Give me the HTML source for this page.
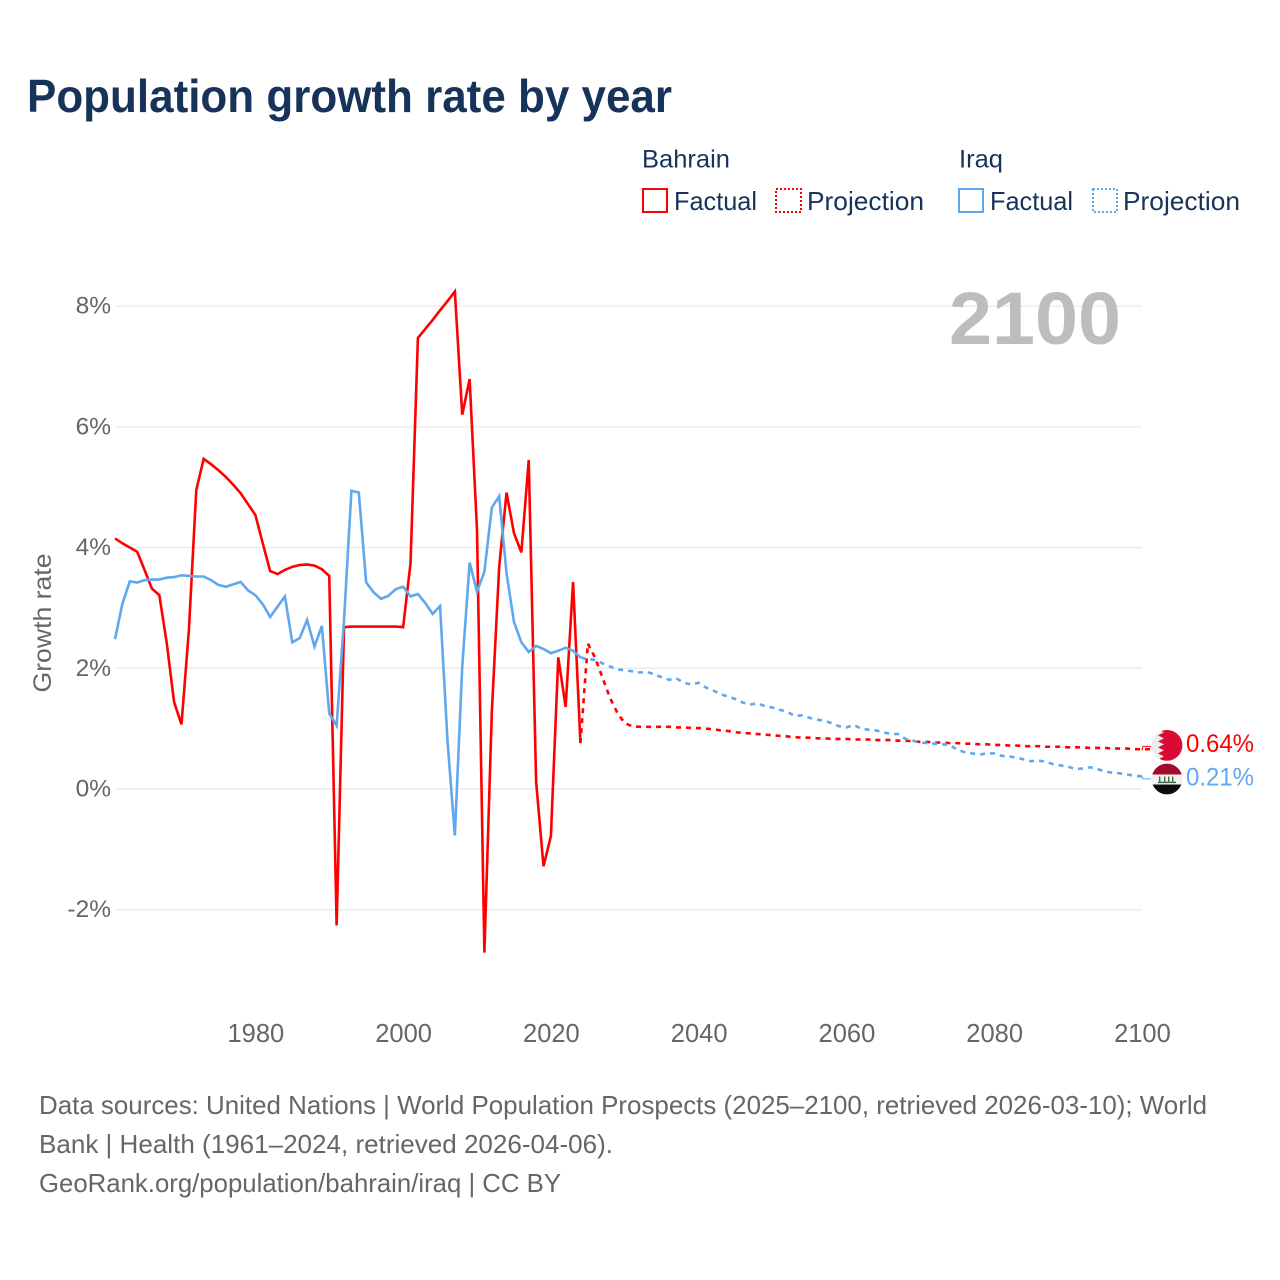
<!DOCTYPE html>
<html lang="en">
<head>
<meta charset="utf-8">
<title>Population growth rate by year</title>
<style>
html,body{margin:0;padding:0;background:#fff;}
svg{display:block;font-family:"Liberation Sans",sans-serif;}
</style>
</head>
<body>
<svg id="chart" xmlns="http://www.w3.org/2000/svg" width="1280" height="1280" viewBox="0 0 1280 1280">
  <rect x="0" y="0" width="1280" height="1280" fill="#ffffff"/>
  <text x="27" y="112" font-size="46" font-weight="700" fill="#17335a" textLength="645" lengthAdjust="spacingAndGlyphs">Population growth rate by year</text>

  <g>
    <text x="642" y="167.5" font-size="25" fill="#17335a" textLength="88" lengthAdjust="spacingAndGlyphs">Bahrain</text>
    <text x="959" y="167.5" font-size="25" fill="#17335a" textLength="44" lengthAdjust="spacingAndGlyphs">Iraq</text>
    <g>
      <rect x="643" y="189" width="24" height="23" fill="none" stroke="#ff0000" stroke-width="2"/>
      <text x="674" y="210" font-size="26" fill="#17335a" textLength="83" lengthAdjust="spacingAndGlyphs">Factual</text>
    </g>
    <g>
      <rect x="776" y="189" width="25" height="23" fill="none" stroke="#ff0000" stroke-width="2" stroke-dasharray="2 2"/>
      <text x="807" y="210" font-size="26" fill="#17335a" textLength="117" lengthAdjust="spacingAndGlyphs">Projection</text>
    </g>
    <g>
      <rect x="959" y="189" width="24" height="23" fill="none" stroke="#5fa8ee" stroke-width="2"/>
      <text x="990" y="210" font-size="26" fill="#17335a" textLength="83" lengthAdjust="spacingAndGlyphs">Factual</text>
    </g>
    <g>
      <rect x="1093" y="189" width="24" height="23" fill="none" stroke="#5fa8ee" stroke-width="2" stroke-dasharray="2 2"/>
      <text x="1123" y="210" font-size="26" fill="#17335a" textLength="117" lengthAdjust="spacingAndGlyphs">Projection</text>
    </g>
  </g>

  <g id="grid"></g>
  <g id="yticks"></g>
  <g id="xticks"></g>
  <text transform="translate(51,623) rotate(-90)" text-anchor="middle" font-size="25" fill="#666666" textLength="139" lengthAdjust="spacingAndGlyphs">Growth rate</text>
  <text x="949" y="344" font-size="74" font-weight="700" fill="#bdbdbd" textLength="172" lengthAdjust="spacingAndGlyphs">2100</text>

  <g id="series"></g>
  <g id="ends"></g>

  <g fill="#666666" font-size="26">
    <text x="39" y="1114" textLength="1168" lengthAdjust="spacingAndGlyphs">Data sources: United Nations | World Population Prospects (2025–2100, retrieved 2026-03-10); World</text>
    <text x="39" y="1153" textLength="574" lengthAdjust="spacingAndGlyphs">Bank | Health (1961–2024, retrieved 2026-04-06).</text>
    <text x="39" y="1192" textLength="522" lengthAdjust="spacingAndGlyphs">GeoRank.org/population/bahrain/iraq | CC BY</text>
  </g>
</svg>

<script>
// ---- Data (percent growth per year) ----
const firstFactualYear = 1961;
const firstProjectionYear = 2024;
const yTickValues = [8, 6, 4, 2, 0, -2];
const xTickYears = [1980, 2000, 2020, 2040, 2060, 2080, 2100];

const bahrainFactual = [
  4.15, 4.07, 4.00, 3.93, 3.63, 3.32, 3.21, 2.42, 1.44, 1.07,
  2.63, 4.95, 5.47, 5.38, 5.28, 5.17, 5.04, 4.90, 4.72, 4.54,
  4.07, 3.61, 3.56, 3.63, 3.68, 3.71, 3.72, 3.70, 3.64, 3.53,
  -2.26, 2.68, 2.69, 2.69, 2.69, 2.69, 2.69, 2.69, 2.69, 2.68,
  3.74, 7.47, 7.62, 7.77, 7.93, 8.08, 8.24, 6.20, 6.79, 4.29,
  -2.71, 1.26, 3.68, 4.91, 4.24, 3.92, 5.45, 0.12, -1.28, -0.78,
  2.18, 1.36, 3.43, 0.76
];
const bahrainProjection = [
  0.76, 2.41, 2.17, 1.84, 1.51, 1.26, 1.09, 1.04, 1.03, 1.03,
  1.03, 1.03, 1.03, 1.02, 1.02, 1.01, 1.01, 1.00, 0.99, 0.97,
  0.96, 0.94, 0.93, 0.92, 0.91, 0.90, 0.89, 0.88, 0.87, 0.86,
  0.85, 0.85, 0.84, 0.84, 0.83, 0.83, 0.83, 0.82, 0.82, 0.82,
  0.81, 0.81, 0.81, 0.80, 0.80, 0.79, 0.78, 0.78, 0.77, 0.77,
  0.76, 0.76, 0.75, 0.75, 0.74, 0.74, 0.73, 0.73, 0.72, 0.72,
  0.71, 0.71, 0.71, 0.70, 0.70, 0.70, 0.69, 0.69, 0.69, 0.68,
  0.68, 0.68, 0.67, 0.67, 0.67, 0.66, 0.66, 0.66, 0.65, 0.64
];
const iraqFactual = [
  2.48, 3.07, 3.44, 3.42, 3.46, 3.47, 3.47, 3.50, 3.51, 3.54,
  3.53, 3.52, 3.52, 3.46, 3.38, 3.35, 3.39, 3.43, 3.29, 3.21,
  3.06, 2.85, 3.02, 3.19, 2.43, 2.50, 2.80, 2.36, 2.70, 1.25,
  1.05, 2.80, 4.94, 4.91, 3.42, 3.26, 3.15, 3.20, 3.31, 3.35,
  3.19, 3.23, 3.08, 2.90, 3.03, 0.81, -0.77, 2.03, 3.75, 3.27,
  3.60, 4.66, 4.85, 3.57, 2.77, 2.43, 2.27, 2.37, 2.32, 2.25,
  2.29, 2.34, 2.29, 2.18
];
const iraqProjection = [
  2.18, 2.15, 2.14, 2.08, 2.03, 1.98, 1.97, 1.95, 1.93, 1.94,
  1.90, 1.85, 1.81, 1.83, 1.76, 1.73, 1.76, 1.68, 1.63, 1.57,
  1.53, 1.49, 1.43, 1.40, 1.42, 1.37, 1.35, 1.31, 1.28, 1.21,
  1.22, 1.18, 1.15, 1.13, 1.09, 1.04, 1.02, 1.06, 1.00, 0.98,
  0.97, 0.94, 0.91, 0.91, 0.83, 0.80, 0.77, 0.76, 0.75, 0.74,
  0.73, 0.65, 0.61, 0.59, 0.57, 0.59, 0.59, 0.55, 0.54, 0.52,
  0.49, 0.46, 0.47, 0.45, 0.41, 0.39, 0.37, 0.33, 0.34, 0.36,
  0.33, 0.29, 0.27, 0.26, 0.24, 0.22, 0.21
];

// ---- Axis functions ----
const NS = 'http://www.w3.org/2000/svg';
function x(year) { return 115 + (year - 1961) * 7.388; }
function y(value) { return 789 - value * 60.37; }

function make(tag, parent) {
  const el = document.createElementNS(NS, tag);
  parent.appendChild(el);
  return el;
}
function pointsFrom(values, startYear) {
  return values.map(function (v, i) {
    return x(startYear + i).toFixed(2) + ',' + y(v).toFixed(2);
  }).join(' ');
}

// ---- Gridlines and y ticks ----
const gridGroup = document.getElementById('grid');
const yTickGroup = document.getElementById('yticks');
yTickValues.forEach(function (v) {
  const line = make('line', gridGroup);
  
  
  line.setAttribute('x1', 115);
  line.setAttribute('x2', 1142);
  line.setAttribute('y1', y(v));
  line.setAttribute('y2', y(v));
  line.setAttribute('stroke', '#ebebeb');
  line.setAttribute('stroke-width', 1.4);

  const label = make('text', yTickGroup);
  
  
  label.setAttribute('x', 111);
  label.setAttribute('y', y(v) + 7.5);
  label.setAttribute('text-anchor', 'end');
  label.setAttribute('font-size', 24.5);
  label.setAttribute('fill', '#666666');
  label.textContent = v + '%';
});

// ---- X ticks ----
const xTickGroup = document.getElementById('xticks');
xTickYears.forEach(function (yr) {
  const label = make('text', xTickGroup);
  
  
  label.setAttribute('x', x(yr) + 0.5);
  label.setAttribute('y', 1042);
  label.setAttribute('text-anchor', 'middle');
  label.setAttribute('font-size', 25.5);
  label.setAttribute('fill', '#666666');
  label.textContent = yr;
});

// ---- Series ----
const seriesGroup = document.getElementById('series');
const RED = '#ff0000';
const BLUE = '#5fa8ee';

function drawLine(name, values, startYear, color, dashed) {
  const line = make('polyline', seriesGroup);
  
  
  line.setAttribute('points', pointsFrom(values, startYear));
  line.setAttribute('fill', 'none');
  line.setAttribute('stroke', color);
  line.setAttribute('stroke-width', 2.6);
  line.setAttribute('stroke-linejoin', 'miter');
  if (dashed) {
    line.setAttribute('stroke-dasharray', '5 5');
  }
}
drawLine('bahrain-factual-line', bahrainFactual, firstFactualYear, RED, false);
drawLine('bahrain-projection-line', bahrainProjection, firstProjectionYear, RED, true);
drawLine('iraq-factual-line', iraqFactual, firstFactualYear, BLUE, false);
drawLine('iraq-projection-line', iraqProjection, firstProjectionYear, BLUE, true);

// ---- End markers ----
const endGroup = document.getElementById('ends');
const bahrainLast = bahrainProjection[bahrainProjection.length - 1];
const iraqLast = iraqProjection[iraqProjection.length - 1];

function leader(name, value, offset, color) {
  const ly = y(value);
  const l = make('polyline', endGroup);
  
  
  l.setAttribute('points', x(2100) + ',' + ly + ' ' + (x(2100) + 1) + ',' + (ly + offset) + ' ' + (x(2100) + 9) + ',' + (ly + offset));
  l.setAttribute('fill', 'none');
  l.setAttribute('stroke', color);
  l.setAttribute('stroke-width', 1);
}
function endLabel(name, value, offset, color) {
  const t = make('text', endGroup);
  
  
  t.setAttribute('x', 1186);
  t.setAttribute('y', y(value) + offset);
  t.setAttribute('font-size', 25);
  t.setAttribute('fill', color);
  t.setAttribute('textLength', 68);
  t.setAttribute('lengthAdjust', 'spacingAndGlyphs');
  t.textContent = value.toFixed(2) + '%';
}

leader('bahrain-end-leader', bahrainLast, -4, RED);
leader('iraq-end-leader', iraqLast, 2.5, BLUE);

// Bahrain flag
const bahrainFlag = make('g', endGroup);


bahrainFlag.setAttribute('transform', 'translate(1167,' + (y(bahrainLast) - 5) + ')');
bahrainFlag.innerHTML =
  '<clipPath id="clip-bh"><circle cx="0" cy="0" r="15.4"/></clipPath>' +
  '<g clip-path="url(#clip-bh)">' +
  '<rect x="-16" y="-16" width="32" height="32" fill="#ececec"/>' +
  '<polygon fill="#da0a32" points="16,-16 -9,-16 -3,-13 -9,-10 -3,-7 -9,-4 -3,-1 -9,2 -3,5 -9,8 -3,11 -9,14 -3,16 16,16"/>' +
  '</g>';

// Iraq flag
const iraqFlag = make('g', endGroup);


iraqFlag.setAttribute('transform', 'translate(1167,' + (y(iraqLast) + 2.7) + ')');
iraqFlag.innerHTML =
  '<clipPath id="clip-iq"><circle cx="0" cy="0" r="15.4"/></clipPath>' +
  '<g clip-path="url(#clip-iq)">' +
  '<rect x="-16" y="-16" width="32" height="11.5" fill="#a50a2c"/>' +
  '<rect x="-16" y="-4.5" width="32" height="10" fill="#f2f2f2"/>' +
  '<rect x="-16" y="5.5" width="32" height="11" fill="#0c0c0c"/>' +
  '<g fill="#3d6b45">' +
  '<rect x="-9" y="2.6" width="18" height="1.5"/>' +
  '<rect x="-8" y="-2.5" width="1.4" height="5"/>' +
  '<rect x="-3" y="-2.5" width="1.4" height="5"/>' +
  '<rect x="1" y="-2.5" width="1.4" height="5"/>' +
  '<rect x="5" y="-2.5" width="1.4" height="5"/>' +
  '</g></g>';

endLabel('bahrain-end-value', bahrainLast, 1.5, RED);
endLabel('iraq-end-value', iraqLast, 9, BLUE);
</script>
</body>
</html>
